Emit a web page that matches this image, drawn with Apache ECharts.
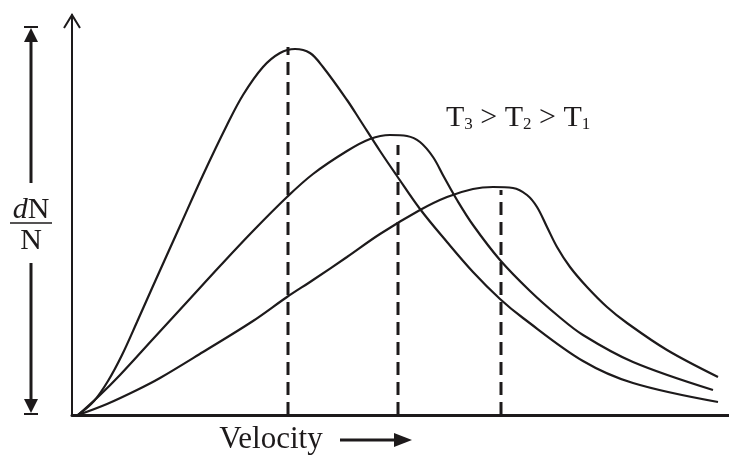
<!DOCTYPE html>
<html lang="en">
<head>
    <meta charset="UTF-8">
    <title>Maxwell distribution</title>
    <script src="https://cdn.jsdelivr.net/npm/echarts@6/dist/echarts.min.js"></script>
    <style>
        html, body { margin: 0; padding: 0; background: #fff; }
        #main { width: 729px; height: 459px; }
    </style>
</head>
<body>
    <div id="main"></div>
    <script>
        // curves: [velocity, dN/N]
        var curveT1 = [[6, 0], [22, 14], [36, 34], [50, 60], [65, 93], [81, 129], [108, 189], [131, 240], [155, 290], [171, 320], [191, 348], [208, 362], [223, 366], [238, 362], [251, 348], [275, 315], [288, 295], [308, 264], [325, 239], [348, 206], [375, 173], [401, 143], [428, 116], [451, 97], [511, 54], [561, 32], [646, 13]];
        var curveT2 = [[6, 0], [27, 19], [48, 40], [81, 76], [115, 113], [148, 149], [181, 184], [215, 218], [241, 241], [275, 264], [298, 276], [318, 280], [335, 279], [348, 273], [361, 258], [372, 238], [385, 215], [401, 190], [428, 155], [458, 124], [485, 100], [511, 80], [561, 53], [641, 25]];
        var curveT3 = [[6, 0], [35, 11], [65, 25], [88, 37], [131, 63], [181, 94], [215, 118], [241, 135], [275, 158], [308, 181], [348, 205], [375, 218], [401, 226], [421, 228], [441, 227], [455, 220], [465, 208], [475, 188], [485, 168], [498, 148], [515, 128], [535, 108], [555, 92], [595, 65], [646, 38]];
        // most probable velocity markers
        var peakX = [216, 326, 429];
        var peakTop = [368, 270, 225];

        var ink = '#1d1a1b';
        var serif = '"Liberation Serif", "DejaVu Serif", serif';

        var series = [];
        [curveT1, curveT2, curveT3].forEach(function (c) {
            series.push({
                type: 'line',
                data: c,
                smooth: 0.35,
                symbol: 'none',
                silent: true,
                lineStyle: { color: ink, width: 2.2 }
            });
        });
        peakX.forEach(function (x, i) {
            series.push({
                type: 'line',
                data: [[x, 0], [x, peakTop[i]]],
                symbol: 'none',
                silent: true,
                lineStyle: { color: ink, width: 3, type: [13, 7] }
            });
        });

        var myChart = echarts.init(document.getElementById('main'));
        var option = {
            backgroundColor: '#fff',
            animation: false,
            grid: { left: 72, right: 0, top: 15, bottom: 44 },
            xAxis: {
                type: 'value', min: 0, max: 657,
                axisLabel: { show: false }, axisTick: { show: false }, splitLine: { show: false },
                axisLine: { lineStyle: { color: ink, width: 3 } }
            },
            yAxis: {
                type: 'value', min: 0, max: 400,
                axisLabel: { show: false }, axisTick: { show: false }, splitLine: { show: false },
                axisLine: { lineStyle: { color: ink, width: 2 } }
            },
            series: series,
            graphic: [
                // y axis arrow head
                { type: 'polyline', shape: { points: [[64, 28], [72, 15], [80, 28]] }, style: { stroke: ink, lineWidth: 2, fill: null } },
                // left double arrow
                { type: 'line', shape: { x1: 31, y1: 38, x2: 31, y2: 183 }, style: { stroke: ink, lineWidth: 3 } },
                { type: 'line', shape: { x1: 31, y1: 263, x2: 31, y2: 402 }, style: { stroke: ink, lineWidth: 3 } },
                { type: 'line', shape: { x1: 24, y1: 27, x2: 38, y2: 27 }, style: { stroke: ink, lineWidth: 2 } },
                { type: 'line', shape: { x1: 24, y1: 414, x2: 38, y2: 414 }, style: { stroke: ink, lineWidth: 2 } },
                { type: 'polygon', shape: { points: [[24, 42], [31, 28], [38, 42]] }, style: { fill: ink } },
                { type: 'polygon', shape: { points: [[24, 399], [31, 413], [38, 399]] }, style: { fill: ink } },
                // dN / N
                { type: 'text', x: 31, y: 210, style: { text: '{i|d}N', rich: { i: { fontStyle: 'italic', fontFamily: serif, fontSize: 30, fill: ink } }, font: '30px ' + serif, fill: ink, align: 'center', verticalAlign: 'middle' } },
                { type: 'line', shape: { x1: 10, y1: 223, x2: 52, y2: 223 }, style: { stroke: ink, lineWidth: 1.5 } },
                { type: 'text', x: 31, y: 241, style: { text: 'N', font: '30px ' + serif, fill: ink, align: 'center', verticalAlign: 'middle' } },
                // Velocity label + arrow
                { type: 'text', x: 271, y: 440, style: { text: 'Velocity', font: '31px ' + serif, fill: ink, align: 'center', verticalAlign: 'middle' } },
                { type: 'line', shape: { x1: 340, y1: 440, x2: 396, y2: 440 }, style: { stroke: ink, lineWidth: 3 } },
                { type: 'polygon', shape: { points: [[394, 433], [412, 440], [394, 447]] }, style: { fill: ink } },
                // temperature order
                {
                    type: 'text', x: 446, y: 118,
                    style: {
                        text: 'T{s|3} > T{s|2} > T{s|1}',
                        font: '30px ' + serif, fill: ink, verticalAlign: 'middle',
                        rich: { s: { fontSize: 17, fontFamily: serif, fill: ink, verticalAlign: 'bottom', padding: [14, 0, 0, 0] } }
                    }
                }
            ]
        };
        myChart.setOption(option);
    </script>
</body>
</html>
